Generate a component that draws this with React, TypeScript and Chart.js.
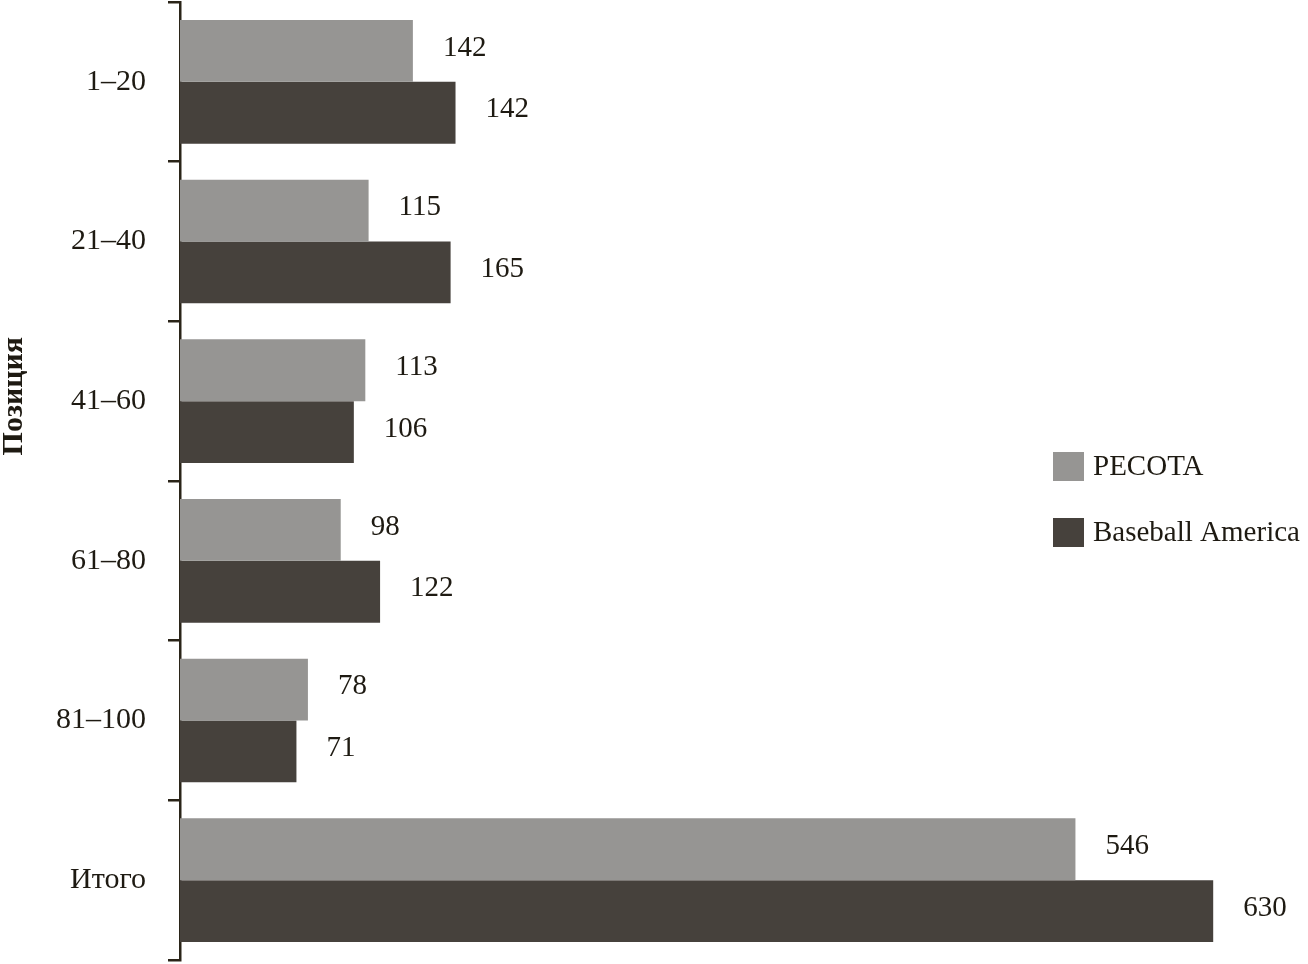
import { useEffect, useRef } from "react";
import { Chart, registerables } from "chart.js";

Chart.register(...registerables);

const categories = ["1–20", "21–40", "41–60", "61–80", "81–100", "Итого"];
const seriesNames = ["PECOTA", "Baseball America"];
const pecotaValues = [142, 115, 113, 98, 78, 546];
const baValues = [168, 165, 106, 122, 71, 630];
const pecotaLabels = ["142", "115", "113", "98", "78", "546"];
const baLabels = ["142", "165", "106", "122", "71", "630"];
const axisTitle = "Позиция";
const xMax = 650;

const FONT = "'Liberation Serif', 'Times New Roman', serif";
const TEXT = "#1e1a12";
const AXIS = "#2a2418";
const COLORS = ["#969593", "#46413c"];

const overlay = {
  id: "overlay",
  afterDraw(chart: any) {
    const ctx = chart.ctx;
    const area = chart.chartArea;
    const labelSets = [pecotaLabels, baLabels];
    ctx.save();
    ctx.fillStyle = TEXT;
    ctx.font = `29px ${FONT}`;
    ctx.textAlign = "left";
    ctx.textBaseline = "middle";
    chart.data.datasets.forEach((_: any, di: number) => {
      const meta = chart.getDatasetMeta(di);
      meta.data.forEach((bar: any, i: number) => {
        ctx.fillText(labelSets[di][i], bar.x + 30, bar.y - 3);
      });
    });

    // axis title
    const y = chart.scales.y;
    const cy = (y.getPixelForTick(0) + y.getPixelForTick(4)) / 2 - 5;
    ctx.save();
    ctx.translate(14, cy);
    ctx.rotate(-Math.PI / 2);
    ctx.textAlign = "center";
    ctx.font = `bold 30px ${FONT}`;
    ctx.fillText(axisTitle, 0, 0);
    ctx.restore();

    // legend
    const lx = chart.width - 255;
    const ly = area.top + 450;
    seriesNames.forEach((name, i) => {
      const by = ly + i * 66;
      ctx.fillStyle = COLORS[i];
      ctx.fillRect(lx, by, 31, 29);
      ctx.fillStyle = TEXT;
      ctx.font = `29px ${FONT}`;
      ctx.textAlign = "left";
      ctx.fillText(name, lx + 40, by + 15);
    });
    ctx.restore();
  },
};

export default function App() {
  const ref = useRef<HTMLCanvasElement>(null);
  useEffect(() => {
    document.body.style.margin = "0";
    const chart = new Chart(ref.current!, {
      type: "bar",
      data: {
        labels: categories,
        datasets: [
          {
            label: seriesNames[0],
            data: pecotaValues,
            backgroundColor: COLORS[0],
            categoryPercentage: 0.775,
            barPercentage: 1,
          },
          {
            label: seriesNames[1],
            data: baValues,
            backgroundColor: COLORS[1],
            categoryPercentage: 0.775,
            barPercentage: 1,
          },
        ],
      },
      options: {
        indexAxis: "y",
        animation: false,
        responsive: true,
        maintainAspectRatio: false,
        devicePixelRatio: 1,
        layout: { padding: { top: 2, bottom: 4, left: 0, right: 62 } },
        plugins: {
          legend: { display: false },
          tooltip: { enabled: false },
          title: { display: false },
        },
        scales: {
          x: { display: false, min: 0, max: xMax },
          y: {
            position: "left",
            offset: true,
            grid: {
              display: true,
              drawOnChartArea: false,
              drawTicks: true,
              tickLength: 12,
              color: AXIS,
              lineWidth: 2.5,
              offset: true,
            },
            border: { display: true, color: AXIS, width: 2.5 },
            ticks: {
              color: TEXT,
              padding: 22,
              font: { family: FONT, size: 30 },
            },
            afterFit: (s: any) => {
              s.width = 180;
              s.paddingTop = 0;
              s.paddingBottom = 0;
            },
          },
        },
      },
      plugins: [overlay],
    });
    return () => chart.destroy();
  }, []);
  return (
    <div style={{ width: 1308, height: 964, position: "relative" }}>
      <canvas ref={ref} />
    </div>
  );
}
